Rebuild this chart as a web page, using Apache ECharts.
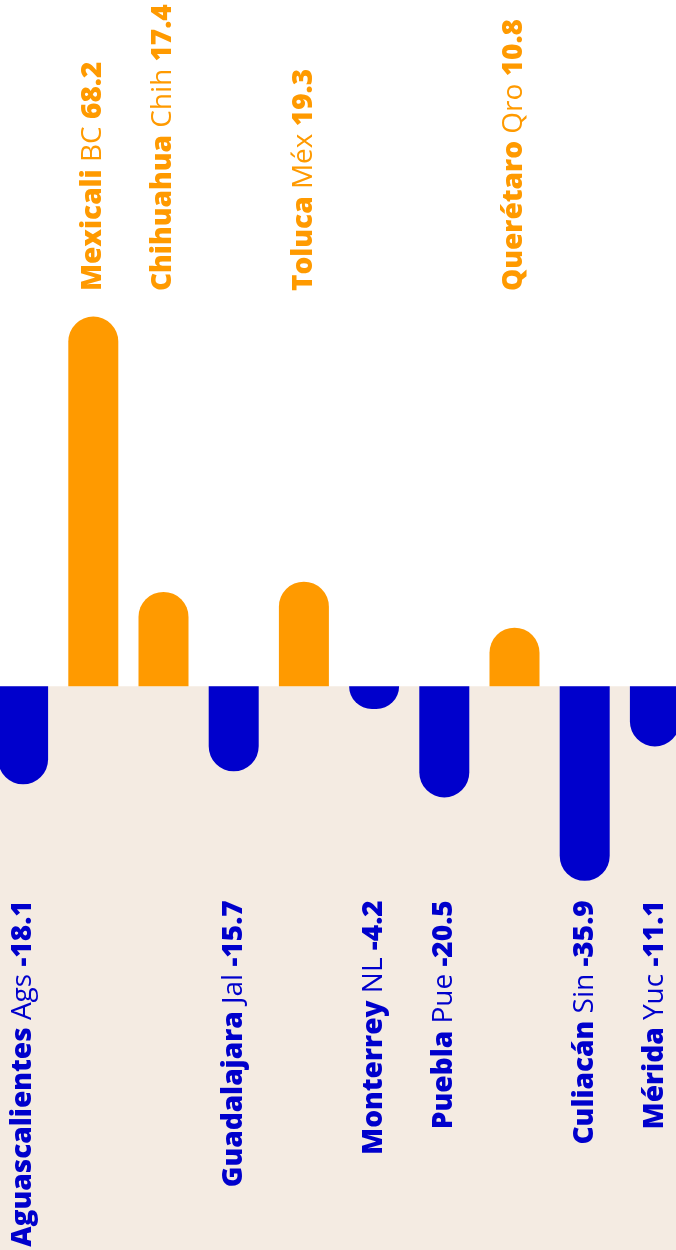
<!DOCTYPE html>
<html><head><meta charset="utf-8">
<script src="https://cdn.jsdelivr.net/npm/echarts@6/dist/echarts.min.js"></script>
<style>html,body{margin:0;padding:0;background:#fff;overflow:hidden;width:676px;height:1250px}#c{width:702px;height:1250px;margin-left:-12px}</style>
</head><body><div id="c"></div>
<script>
const cities = ["Aguascalientes","Mexicali","Chihuahua","Guadalajara","Toluca","Monterrey","Puebla","Querétaro","Culiacán","Mérida"];
const states = ["Ags","BC","Chih","Jal","Méx","NL","Pue","Qro","Sin","Yuc"];
const values = [-18.1, 68.2, 17.4, -15.7, 19.3, -4.2, -20.5, 10.8, -35.9, -11.1];

const ORANGE = "#FF9A00", BLUE = "#0000CC", BEIGE = "#F4EBE2";
const Y_MIN = -104, Y_MAX = 126.6;
const POS_ANCHOR = 72.9, NEG_ANCHOR = -39.5;

const barData = values.map(v => ({
  value: v,
  itemStyle: { color: v >= 0 ? ORANGE : BLUE, borderRadius: v >= 0 ? [25,25,0,0] : [0,0,25,25] }
}));

const labelData = values.map((v, i) => ({
  value: [i, v >= 0 ? POS_ANCHOR : NEG_ANCHOR],
  label: {
    align: v >= 0 ? 'left' : 'right',
    rich: {
      b: { fontFamily: 'Open Sans', fontWeight: 800, fontSize: 28, color: v >= 0 ? ORANGE : BLUE },
      l: { fontFamily: 'Open Sans', fontWeight: 400, fontSize: 28, color: v >= 0 ? ORANGE : BLUE }
    }
  }
}));

const chart = echarts.init(document.getElementById('c'), null, { renderer: 'canvas' });
chart.setOption({
  animation: false,
  backgroundColor: '#fff',
  grid: { left: 0, right: 0, top: 0, bottom: 0, containLabel: false },
  xAxis: { type: 'category', data: cities, show: false, boundaryGap: true },
  yAxis: { type: 'value', min: Y_MIN, max: Y_MAX, show: false, splitLine: { show: false } },
  series: [
    {
      type: 'bar', data: barData, barWidth: 50, z: 3,
      markArea: { silent: true, itemStyle: { color: BEIGE, opacity: 1 }, data: [[{ yAxis: 0 }, { yAxis: Y_MIN }]] }
    },
    {
      type: 'scatter', data: labelData, symbolSize: 1, itemStyle: { color: 'rgba(0,0,0,0)', opacity: 1 }, z: 5,
      label: {
        show: true, position: 'inside', rotate: 90, verticalAlign: 'middle', opacity: 1,
        formatter: p => {
          const i = p.dataIndex;
          return `{b|${cities[i]} }{l|${states[i]} }{b|${values[i]}}`;
        }
      }
    }
  ]
});
</script></body></html>
